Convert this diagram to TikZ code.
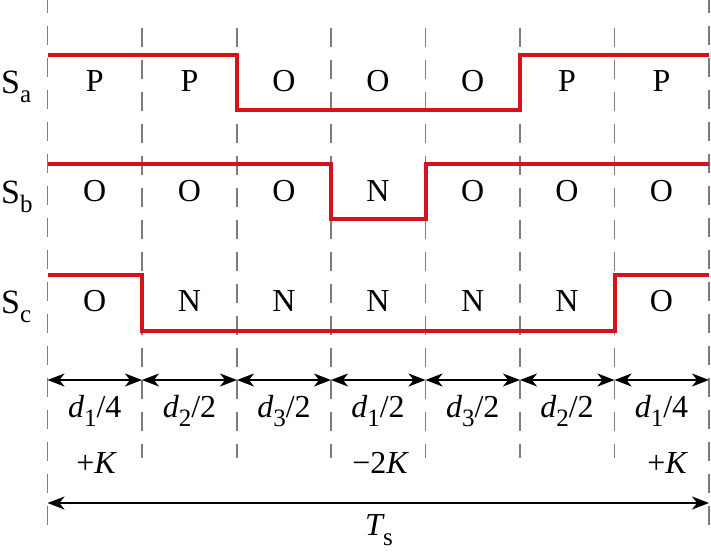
\documentclass[tikz,border=0pt]{standalone}
\usepackage{fontspec}
\setmainfont{LiberationSerif}[Extension=.ttf, UprightFont=*-Regular, ItalicFont=*-Italic, BoldFont=*-Bold, BoldItalicFont=*-BoldItalic]
\usetikzlibrary{arrows.meta}
\definecolor{sigred}{RGB}{212,18,28}
\definecolor{dashgray}{RGB}{125,125,125}
\newcommand{\lsub}[2][-9pt]{\raisebox{#1}{\fontsize{25}{28}\selectfont #2}}
\begin{document}
\begin{tikzpicture}[x=1pt,y=-1pt,
  txt/.style={font=\rmfamily\fontsize{32}{38}\selectfont, inner sep=0pt, anchor=base},
  rowlab/.style={font=\rmfamily\fontsize{34}{40}\selectfont, inner sep=0pt, anchor=base west},
  gridline/.style={draw=dashgray, line width=1.3pt, dash pattern=on 19pt off 13pt},
  sig/.style={draw=sigred, line width=4pt, line join=miter},
  dim/.style={draw=black, line width=1.5pt, {Stealth[length=17pt,width=13pt,inset=5pt]}-{Stealth[length=17pt,width=13pt,inset=5pt]}}]
\useasboundingbox (0,0) rectangle (711,554);
% grid coordinates
\foreach \i/\x in {0/47.5,1/142,2/237,3/331,4/425.5,5/520,6/614.5,7/709}{
  \coordinate (t\i) at (\x,28);
  \coordinate (b\i) at (\x,458);
  \coordinate (r\i) at (\x,380);
}
\coordinate (otl) at (47.5,-6);
\coordinate (obl) at (47.5,532);
\coordinate (otr) at (709,-6);
\coordinate (obr) at (709,532);
\coordinate (tsl) at (47.5,503);
\coordinate (tsr) at (709,503);
% dashed lines
\draw[gridline] (otl) -- (obl);
\draw[gridline] (otr) -- (obr);
\foreach \i in {1,...,6}{ \draw[gridline] (t\i) -- (b\i); }
% signals
\draw[sig] (47.5,55) -- (237,55) -- (237,110) -- (520,110) -- (520,55) -- (709,55);
\draw[sig] (47.5,164) -- (331,164) -- (331,219) -- (425.5,219) -- (425.5,164) -- (709,164);
\draw[sig] (47.5,275) -- (142,275) -- (142,331) -- (614.5,331) -- (614.5,275) -- (709,275);
% row labels
\node[rowlab] (la) at (1,93) {S\lsub{a}};
\node[rowlab] (lb) at (1,203) {S\lsub{b}};
\node[rowlab] (lc) at (1,313) {S\lsub{c}};
% state labels
\foreach \x [count=\k] / \a / \b / \c in {94.75/P/O/O, 189.5/P/O/N, 284/O/O/N, 378/O/N/N, 472.75/O/O/N, 567/P/O/N, 661.5/P/O/O}{
  \node[txt] (sa\k) at (\x,91) {\a};
  \node[txt] (sb\k) at (\x,201) {\b};
  \node[txt] (sc\k) at (\x,311) {\c};
}
% dimension arrows
\foreach \i [evaluate=\i as \j using int(\i+1)] in {0,...,6}{
  \draw[dim] (r\i) -- (r\j);
}
\draw[dim] (tsl) -- (tsr);
% duration labels
\node[txt] (d1) at (94.75,417) {{\itshape d}\lsub{1}/4};
\node[txt] (d2) at (189.5,417) {{\itshape d}\lsub{2}/2};
\node[txt] (d3) at (284,417) {{\itshape d}\lsub{3}/2};
\node[txt] (d4) at (378,417) {{\itshape d}\lsub{1}/2};
\node[txt] (d5) at (472.75,417) {{\itshape d}\lsub{3}/2};
\node[txt] (d6) at (567,417) {{\itshape d}\lsub{2}/2};
\node[txt] (d7) at (661.5,417) {{\itshape d}\lsub{1}/4};
\node[txt] (k1) at (96,473) {+{\itshape K}};
\node[txt] (k2) at (380,473) {−2{\itshape K}};
\node[txt] (k3) at (667,473) {+{\itshape K}};
\node[txt] (ts) at (379,535) {{\itshape T}\lsub[-10pt]{s}};
\end{tikzpicture}
\end{document}
